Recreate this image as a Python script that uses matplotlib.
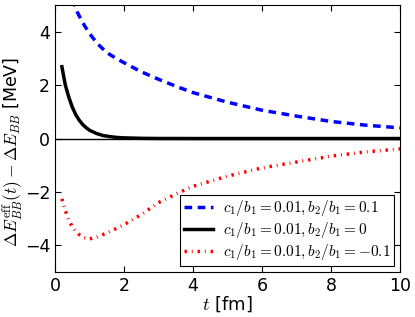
import matplotlib
matplotlib.use('Agg')
import matplotlib.pyplot as plt
import numpy as np

plt.rcParams['mathtext.fontset'] = 'cm'
plt.rcParams['font.family'] = 'DejaVu Sans'

# values
t_blue = [0.5, 0.6, 0.8, 1.0, 1.25, 1.5, 1.75, 2.0, 2.5, 3.0, 3.5, 4.0, 5.0, 6.0, 7.0, 8.0, 9.0, 10.0]
e_blue = [5.3, 4.85, 4.35, 3.93, 3.53, 3.22, 3.02, 2.84, 2.5, 2.22, 1.96, 1.72, 1.36, 1.06, 0.84, 0.64, 0.50, 0.40]

t_black = [0.2, 0.3, 0.4, 0.5, 0.6, 0.7, 0.8, 0.9, 1.0, 1.2, 1.4, 1.6, 1.8, 2.0, 2.5, 3.0, 4.0, 6.0, 8.0, 10.0]
e_black = [2.69, 2.0, 1.55, 1.18, 0.9, 0.69, 0.53, 0.41, 0.31, 0.19, 0.11, 0.07, 0.04, 0.025, 0.008, 0.002, 0.0, 0.0, 0.0, 0.0]

t_red = [0.2, 0.3, 0.4, 0.5, 0.6, 0.7, 0.8, 0.9, 1.0, 1.2, 1.5, 2.0, 2.5, 3.0, 3.5, 4.0, 5.0, 6.0, 7.0, 8.0, 9.0, 10.0]
e_red = [-2.26, -2.7, -3.06, -3.3, -3.47, -3.6, -3.69, -3.74, -3.76, -3.70, -3.54, -3.23, -2.85, -2.4, -2.08, -1.79, -1.41, -1.10, -0.88, -0.66, -0.50, -0.39]

labels = [r'$c_1/b_1=0.01, b_2/b_1=0.1$',
          r'$c_1/b_1=0.01, b_2/b_1=0$',
          r'$c_1/b_1=0.01, b_2/b_1=-0.1$']

fig = plt.figure(figsize=(4.15, 3.17), dpi=100)
ax = fig.add_axes([0.1325, 0.142, 0.8315, 0.842])

ax.axhline(0, color='k', lw=1)
ax.plot(t_blue, e_blue, color='b', lw=2.5, linestyle='--', dashes=(2.2, 1.6), label=labels[0])
ax.plot(t_black, e_black, color='k', lw=2.5, label=labels[1])
ax.plot(t_red, e_red, color='r', lw=2.5, dashes=(0.7, 1.4, 0.25, 1.4), label=labels[2])

ax.set_xlim(0, 10)
ax.set_ylim(-5, 5)
ax.set_xticks([0, 2, 4, 6, 8, 10])
ax.set_yticks([-4, -2, 0, 2, 4])
ax.tick_params(direction='in', top=True, right=True, labelsize=12.5, length=4)
ax.set_xlabel(r'$t$ [fm]', fontsize=13, labelpad=0)
ax.set_ylabel(r'$\Delta E^{\rm eff}_{BB}(t) - \Delta E_{BB}$ [MeV]', fontsize=12.5)
ax.yaxis.set_label_coords(-0.087, 0.45)

leg = ax.legend(loc='lower right', fontsize=11, fancybox=False, framealpha=1,
                edgecolor='k', handlelength=1.9, handletextpad=0.6,
                labelspacing=0.12, borderpad=0.25, borderaxespad=0.4)
leg.get_frame().set_linewidth(0.8)

fig.savefig('out.png', dpi=100)
